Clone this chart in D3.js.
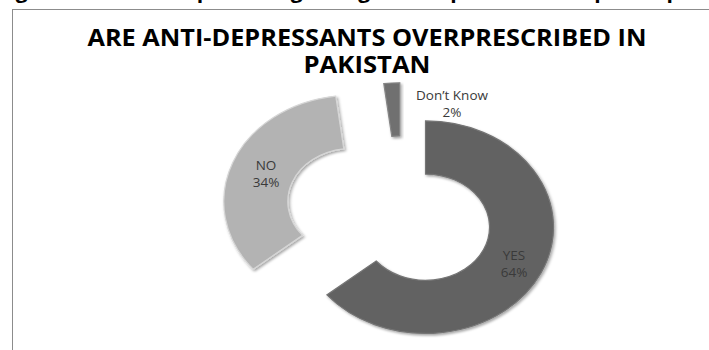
<!DOCTYPE html>
<html>
<head>
<meta charset="utf-8">
<script src="https://cdn.jsdelivr.net/npm/d3@7"></script>
<style>
  body { margin: 0; background: #fff; }
  svg { display: block; }
</style>
</head>
<body>
<svg id="chart" width="709" height="350"></svg>
<script>
// data
const categories = ["YES", "NO", "Don’t Know"];
const percentages = [64, 34, 2];
const sliceColors = ["#626262", "#b3b3b3", "#707070"];
// how far each slice is pulled out of the ring
const explodeBy = [26, 54, 35];

const titleLines = ["ARE ANTI-DEPRESSANTS OVERPRESCRIBED IN", "PAKISTAN"];
const pageHeading = "Figure 4: Doctors’ opinion regarding anti-depressant overprescription";

const svg = d3.select("#chart");

//cropped heading of the document above the chart
svg.append("text")
  .attr("x", 360)
  .attr("y", -2)
  .attr("text-anchor", "middle")
  .style("font-family", "'Open Sans', sans-serif")
  .style("font-weight", "bold")
  .style("font-size", "21px")
  .attr("fill", "#000")
  .text(pageHeading);

//chart frame
svg.append("rect")
  .attr("x", 12.5)
  .attr("y", 9.5)
  .attr("width", 720)
  .attr("height", 400)
  .attr("fill", "#fff")
  .attr("stroke", "#8c8c8c")
  .attr("stroke-width", 1);

//title
const titleWidths = [559, 127];
svg.append("g")
  .selectAll("text")
  .data(titleLines)
  .join("text")
  .attr("x", 367)
  .attr("y", (d, i) => 46 + i * 27)
  .attr("text-anchor", "middle")
  .attr("textLength", (d, i) => titleWidths[i])
  .attr("lengthAdjust", "spacingAndGlyphs")
  .style("font-family", "'Open Sans', sans-serif")
  .style("font-weight", "bold")
  .style("font-size", "23px")
  .attr("fill", "#000")
  .text((d) => d);

//shadow filter for the slices
const defs = svg.append("defs");
const shadow = defs.append("filter")
  .attr("id", "shadow")
  .attr("x", "-20%").attr("y", "-20%")
  .attr("width", "140%").attr("height", "140%");
shadow.append("feDropShadow")
  .attr("dx", 1.5).attr("dy", 2)
  .attr("stdDeviation", 1.5)
  .attr("flood-color", "#000")
  .attr("flood-opacity", 0.35);

//pie layout, slices going clockwise from 12 o'clock
const pie = d3.pie().sort(null).value((d) => d.value);
const slices = pie(categories.map((c, i) => ({ name: c, value: percentages[i], idx: i })));

const outerR = 128;
const innerR = 64;
const tilt = 0.83;
const center = { x: 402, y: 218 };

const arc = d3.arc().innerRadius(innerR).outerRadius(outerR);

const ring = svg.append("g")
  .attr("transform", `translate(${center.x}, ${center.y}) scale(1, ${tilt})`);

const midAngle = (d) => (d.startAngle + d.endAngle) / 2;
const offset = (d) => {
  const k = explodeBy[d.data.idx];
  return [k * Math.sin(midAngle(d)), -k * Math.cos(midAngle(d))];
};

ring.selectAll("path")
  .data(slices)
  .join("path")
  .attr("transform", (d) => `translate(${offset(d)})`)
  .attr("d", arc)
  .attr("fill", (d) => sliceColors[d.data.idx])
  .attr("stroke", (d) => d3.color(sliceColors[d.data.idx]).brighter(0.5))
  .attr("stroke-width", 1.2)
  .attr("vector-effect", "non-scaling-stroke")
  .attr("filter", "url(#shadow)");

//data labels
const labelPos = [
  { x: 514, y: 260 },
  { x: 266, y: 170 },
  { x: 452, y: 100 },
];
const labels = svg.append("g")
  .selectAll("text")
  .data(slices)
  .join("text")
  .attr("text-anchor", "middle")
  .style("font-family", "'Open Sans', sans-serif")
  .style("font-size", "13.5px")
  .attr("fill", "#3a3a3a");
labels.append("tspan")
  .attr("x", (d) => labelPos[d.data.idx].x)
  .attr("y", (d) => labelPos[d.data.idx].y)
  .text((d) => d.data.name);
labels.append("tspan")
  .attr("x", (d) => labelPos[d.data.idx].x)
  .attr("y", (d) => labelPos[d.data.idx].y + 17)
  .text((d) => `${d.data.value}%`);
</script>
</body>
</html>
